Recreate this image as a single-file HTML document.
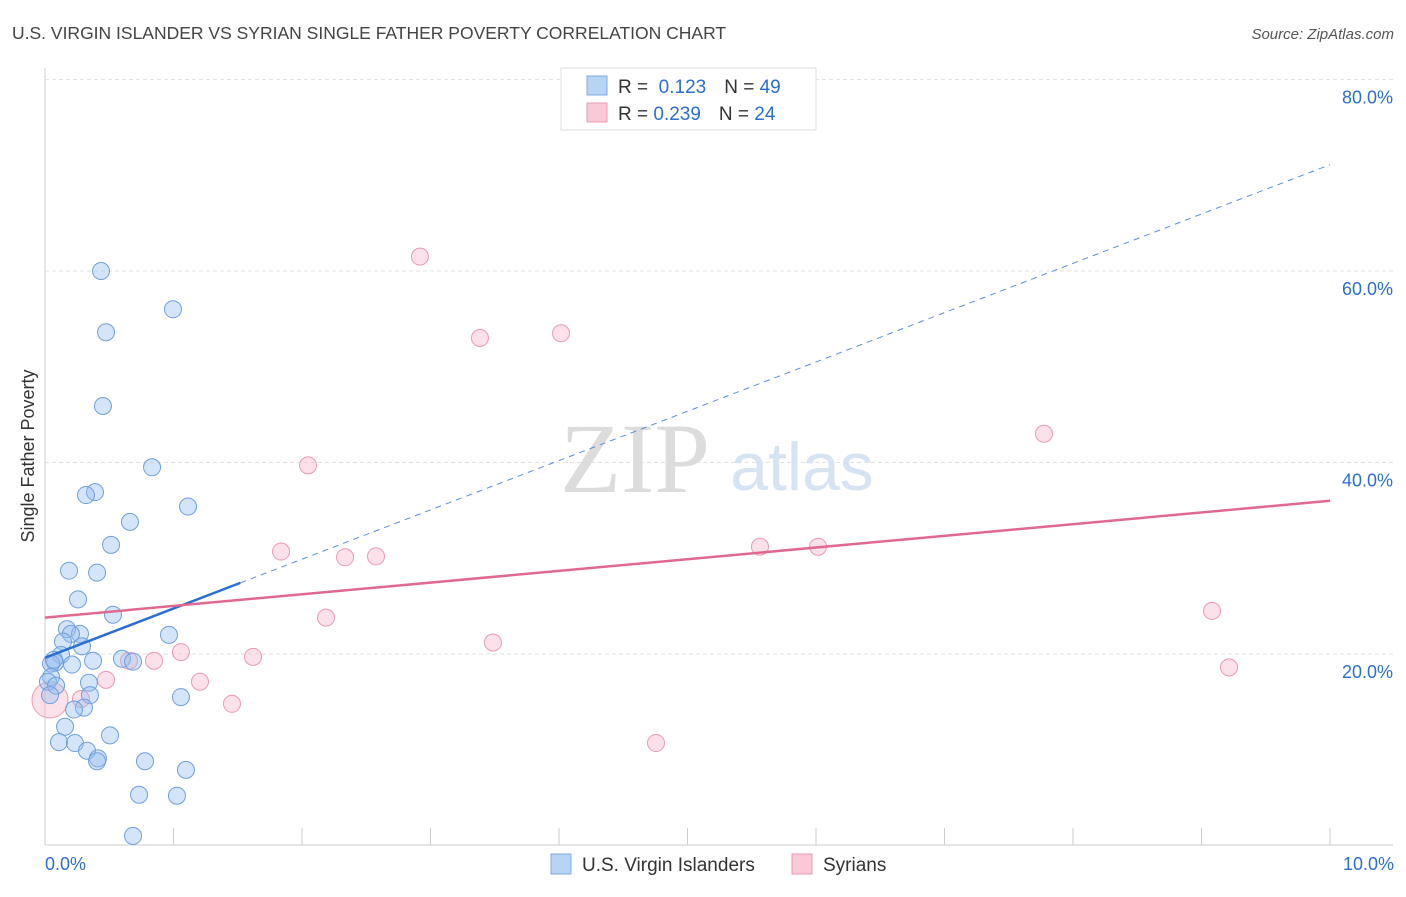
<!DOCTYPE html>
<html><head><meta charset="utf-8"><style>
body{margin:0;background:#fff;font-family:"Liberation Sans",sans-serif;}
svg text{font-family:"Liberation Sans",sans-serif;}
</style></head><body>
<svg id="chart" width="1406" height="892" viewBox="0 0 1406 892">
<text x="12" y="39" font-size="17.5" fill="#444">U.S. VIRGIN ISLANDER VS SYRIAN SINGLE FATHER POVERTY CORRELATION CHART</text>
<text x="1394" y="39" font-size="15" fill="#555" font-style="italic" text-anchor="end">Source: ZipAtlas.com</text>
<text x="34" y="456" font-size="18" fill="#333" text-anchor="middle" transform="rotate(-90 34 456)">Single Father Poverty</text>
<g id="grid"></g>
<text x="635" y="492" font-size="100" fill="#dcdcdc" text-anchor="middle" style="font-family:'Liberation Serif',serif">ZIP</text>
<text x="802" y="490" font-size="68" fill="#d6e3f3" text-anchor="middle">atlas</text>
<g id="marks"></g>
<g>
<rect x="561" y="68" width="255" height="62" fill="#fff" stroke="#ddd"/>
<rect x="587" y="76" width="20" height="19" fill="#b8d4f5" stroke="#7fa9e0"/>
<rect x="587" y="103" width="20" height="19" fill="#f9c9d7" stroke="#eb9ab2"/>
<text x="618" y="93" font-size="19" fill="#333">R = <tspan fill="#2a6fd1">&#160;0.123</tspan><tspan dx="18">N = </tspan><tspan fill="#2a6fd1">49</tspan></text>
<text x="618" y="120" font-size="19" fill="#333">R = <tspan fill="#2a6fd1">0.239</tspan><tspan dx="18">N = </tspan><tspan fill="#2a6fd1">24</tspan></text>
</g>
<g>
<rect x="551" y="854" width="20" height="20" fill="#b8d4f5" stroke="#7fa9e0"/>
<text x="582" y="871" font-size="19" fill="#333">U.S. Virgin Islanders</text>
<rect x="792" y="854" width="20" height="20" fill="#f9c9d7" stroke="#eb9ab2"/>
<text x="823" y="871" font-size="19" fill="#333">Syrians</text>
</g>
<text x="45" y="870" font-size="18" fill="#2a6fd1">0.0%</text>
<text x="1394" y="870" font-size="18" fill="#2a6fd1" text-anchor="end">10.0%</text>
</svg>
<script>
const yTicks=[20,40,60,80];
const blueX=[0.436,0.996,0.475,0.451,0.833,0.389,0.319,1.113,0.661,0.514,0.187,0.405,0.257,0.529,0.171,0.272,0.202,0.965,0.140,0.288,0.125,0.374,0.599,0.685,0.078,0.210,0.047,0.047,0.023,0.086,0.342,0.350,1.058,0.039,0.303,0.226,0.156,0.506,0.109,0.233,0.327,0.412,0.405,0.778,1.097,0.732,1.027,0.685,0.070];
const blueY=[60.0,56.0,53.6,45.9,39.5,36.9,36.6,35.4,33.8,31.4,28.7,28.5,25.7,24.1,22.6,22.1,22.1,22.0,21.3,20.8,19.9,19.3,19.5,19.2,19.1,18.9,19.0,17.6,17.1,16.7,17.0,15.7,15.5,15.7,14.4,14.2,12.4,11.5,10.8,10.7,9.9,9.1,8.8,8.8,7.9,5.3,5.2,1.0,19.4];
const pinkX=[2.918,3.385,4.016,7.774,2.047,1.837,2.335,2.576,5.564,6.016,2.187,9.082,3.486,1.058,1.619,0.848,0.654,9.214,0.475,1.206,0.280,1.455,4.755,0.039];
const pinkY=[61.5,53.0,53.5,43.0,39.7,30.7,30.1,30.2,31.2,31.2,23.8,24.5,21.2,20.2,19.7,19.3,19.3,18.6,17.3,17.1,15.3,14.8,10.7,15.2];
const blueLine=[19.6,71.1];
const pinkLine=[23.8,36.0];
const NS='http://www.w3.org/2000/svg';
const X=v=>45+v/10*1285, Y=v=>845.5-v/20*191.5;
function mk(t,a,p){const e=document.createElementNS(NS,t);for(const k in a)e.setAttribute(k,a[k]);p.appendChild(e);return e;}
const g=document.getElementById('grid'), m=document.getElementById('marks');
mk('line',{x1:45,y1:68,x2:45,y2:845,stroke:'#ccc'},g);
mk('line',{x1:45,y1:845,x2:1393,y2:845,stroke:'#ccc'},g);
for(let i=0;i<=10;i++){const l=mk('line',{x1:X(i),y1:828,x2:X(i),y2:845,stroke:'#ccc'},g);

}
yTicks.forEach(t=>{const l=mk('line',{x1:45,y1:Y(t),x2:1393,y2:Y(t),stroke:'#e2e2e2','stroke-dasharray':'4,3'},g);


const tx=mk('text',{x:1393,y:Y(t)+24,'font-size':18,fill:'#2a6fd1','text-anchor':'end'},g);tx.textContent=t.toFixed(1)+'%';

});
pinkX.forEach((x,i)=>{const c=mk('circle',{cx:X(x),cy:Y(pinkY[i]),r:i==pinkX.length-1?18:8.5,fill:'rgba(246,170,195,0.35)',stroke:'#eb9ab2','stroke-width':1},m);

});
blueX.forEach((x,i)=>{const c=mk('circle',{cx:X(x),cy:Y(blueY[i]),r:8.5,fill:'rgba(150,190,240,0.4)',stroke:'#6f9fdc','stroke-width':1},m);

});
const bAt=x=>blueLine[0]+(blueLine[1]-blueLine[0])*x/10;
let l=mk('line',{x1:X(1.52),y1:Y(bAt(1.52)),x2:X(10),y2:Y(bAt(10)),stroke:'#5b8fd9','stroke-width':1,'stroke-dasharray':'6,5'},m);


l=mk('line',{x1:X(0),y1:Y(bAt(0)),x2:X(1.52),y2:Y(bAt(1.52)),stroke:'#2a6fd1','stroke-width':2.5},m);


l=mk('line',{x1:X(0),y1:Y(pinkLine[0]),x2:X(10),y2:Y(pinkLine[1]),stroke:'#e06990','stroke-width':2.5},m);


</script>
</body></html>
